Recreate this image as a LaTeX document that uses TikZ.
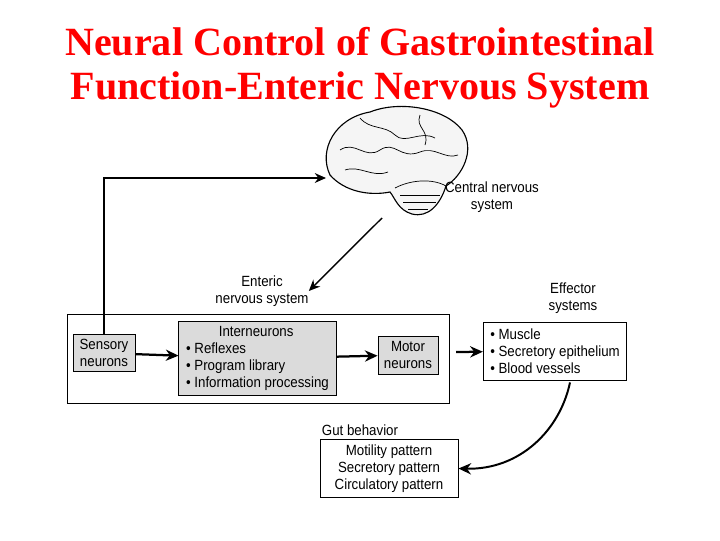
\documentclass[tikz,border=0pt]{standalone}
\usepackage{fontspec}
\setmainfont{Liberation Sans}[FakeStretch=0.9]
\newfontfamily\titlefont{Liberation Serif}
\usetikzlibrary{arrows.meta}
\begin{document}
\begin{tikzpicture}[x=0.025cm,y=-0.025cm,
  lbl/.style={font=\fontsize{10.5}{12}\selectfont, align=center, inner sep=0pt},
  gbox/.style={draw, fill=gray!28, line width=0.6pt},
  wbox/.style={draw, fill=white, line width=0.6pt},
  arr/.style={-{Stealth[length=9pt,width=8pt]}, line width=1.6pt},
  thinarr/.style={-{Stealth[length=8pt,width=7pt]}, line width=1pt}]
\useasboundingbox (0,0) rectangle (720,540);
% title
\node[font=\titlefont\bfseries\fontsize{28.5}{32}\selectfont, text=red] (t1) at (360,42) {Neural Control of Gastrointestinal};
\node[font=\titlefont\bfseries\fontsize{28.5}{32}\selectfont, text=red] (t2) at (360,90) {Function-Enteric Nervous System};

% brain (drawn outline)
\draw[line width=0.8pt, fill=gray!8] (330,175) .. controls (318,150) and (335,118) .. (370,112)
  .. controls (400,100) and (445,108) .. (462,130)
  .. controls (476,150) and (462,176) .. (446,186)
  .. controls (440,205) and (428,218) .. (412,214)
  .. controls (398,210) and (395,198) .. (390,192)
  .. controls (370,196) and (345,192) .. (330,175) -- cycle;
\draw[line width=0.5pt] (340,150) .. controls (355,140) and (365,160) .. (380,150)
  .. controls (395,140) and (400,160) .. (420,152) .. controls (435,146) and (445,160) .. (458,155);
\draw[line width=0.5pt] (360,118) .. controls (370,130) and (385,125) .. (395,135)
  .. controls (405,145) and (420,130) .. (435,138);
\draw[line width=0.5pt] (345,170) .. controls (360,165) and (372,178) .. (388,172);
\draw[line width=0.5pt] (420,115) .. controls (415,128) and (430,130) .. (425,145);
\draw[line width=0.5pt] (395,188) .. controls (410,180) and (432,178) .. (446,186);
\draw[line width=0.4pt] (400,195) -- (440,195) (403,202) -- (436,202) (408,209) -- (428,209);
\coordinate (brainL) at (326,178);
\coordinate (brainS) at (382,218);

% labels
\node[lbl] (cns) at (492,197) {Central nervous\\system};
\node[lbl] (ens) at (262,291) {Enteric\\nervous system};
\node[lbl] (eff) at (573,298) {Effector\\systems};
\node[lbl] (gut) at (360,430) {Gut behavior};

% ENS frame and boxes
\draw[line width=0.6pt] (67,314) rectangle (449,403);
\node[gbox, lbl, minimum width=1.55cm, minimum height=0.93cm] (sens) at (104,353) {Sensory\\neurons};
\node[gbox, lbl, align=left, minimum width=3.93cm, minimum height=1.83cm] (inter) at (257.5,358.5)
  {\makebox[3.5cm]{Interneurons}\\{\textbullet} Reflexes\\{\textbullet} Program library\\{\textbullet} Information processing};
\node[gbox, lbl, minimum width=1.5cm, minimum height=0.95cm] (motor) at (408,355) {Motor\\neurons};
\node[wbox, lbl, align=left, inner xsep=5pt, minimum height=1.45cm] (effb) at (555,351)
  {{\textbullet} Muscle\\{\textbullet} Secretory epithelium\\{\textbullet} Blood vessels};
\node[wbox, lbl, minimum width=3.45cm, minimum height=1.43cm] (gutb) at (389,468.5)
  {Motility pattern\\Secretory pattern\\Circulatory pattern};

% connectors
\draw[arr] (sens) -- (inter);
\draw[arr] (inter) -- (motor);
\coordinate (frameR) at (456,352);
\draw[arr] (frameR) -- (effb);
\draw[thinarr] (sens.north) -- (sens.north |- brainL) -- (brainL);
\draw[thinarr] (brainS) -- (ens.east);
\draw[-{Stealth[length=9pt,width=8pt]}, line width=1.4pt] (effb.south) ++(15,2) .. controls (560,430) and (520,470) .. (gutb.east);
\end{tikzpicture}
\end{document}
